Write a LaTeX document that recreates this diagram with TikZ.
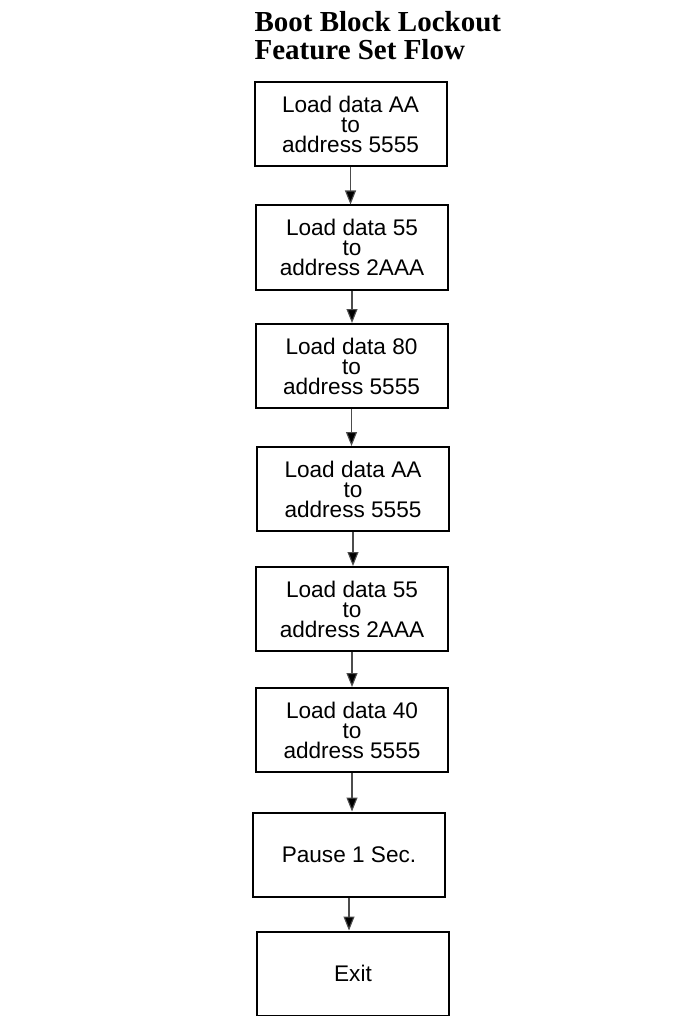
\documentclass[tikz,border=0pt]{standalone}
\usepackage{fontspec}
\setmainfont{Liberation Serif}
\newfontfamily\boxfont{Liberation Sans}
\usetikzlibrary{arrows.meta}

\tikzset{
  stepbox/.style={draw, line width=2pt, minimum width=192pt, minimum height=84pt,
    inner sep=0pt, align=center, font=\boxfont\fontsize{22.6}{20}\selectfont},
  flow/.style={draw=black!70, line width=1.1pt, -{Triangle[length=14pt,width=11pt,fill=black]}}
}

\begin{document}
\begin{tikzpicture}[x=1pt, y=-1pt]
\useasboundingbox (0,0) rectangle (695,1016);

\node[anchor=base west, align=left, font=\bfseries\fontsize{29}{28}\selectfont] (title) at (251,60)
  {Boot Block Lockout\\Feature Set Flow};

\node[stepbox] (b1) at (350.5,124.5) {Load data AA\\to\\address 5555};
\node[stepbox] (b2) at (352,247.5) {Load data 55\\to\\address 2AAA};
\node[stepbox] (b3) at (351.5,366) {Load data 80\\to\\address 5555};
\node[stepbox] (b4) at (353,489) {Load data AA\\to\\address 5555};
\node[stepbox] (b5) at (352,609) {Load data 55\\to\\address 2AAA};
\node[stepbox] (b6) at (352,730) {Load data 40\\to\\address 5555};
\node[stepbox] (b7) at (349,854.5) {Pause 1 Sec.};
\node[stepbox] (b8) at (353,973.5) {Exit};

\foreach \a/\b in {1/2,2/3,3/4,4/5,5/6,6/7,7/8} {
    \draw[flow] (b\a.south) -- (b\a.south |- b\b.north);
  }

\end{tikzpicture}
\end{document}
